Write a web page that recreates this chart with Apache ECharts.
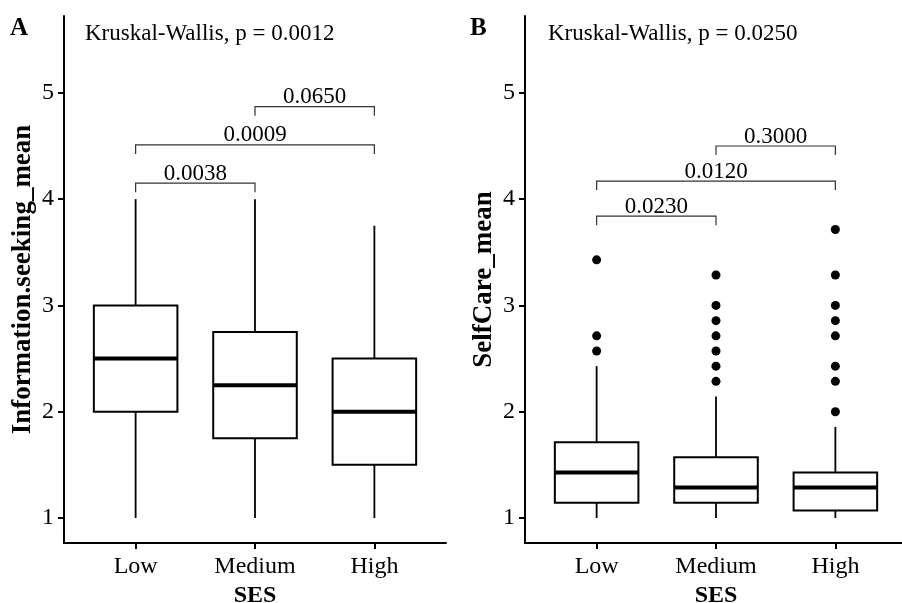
<!DOCTYPE html>
<html lang="en">
<head>
    <meta charset="UTF-8">
    <title>SES boxplots</title>
    <script src="https://cdn.jsdelivr.net/npm/echarts@6/dist/echarts.min.js"></script>
    <style>
        html, body { margin: 0; padding: 0; background: #fff; }
    </style>
</head>
<body>
    <div id="main" style="width: 902px;height:603px;"></div>

    <script type="text/javascript">
        // categories (x positions 1..3)
        var sesLevels = ['Low', 'Medium', 'High'];
        var yTicks = [1, 2, 3, 4, 5];

        // panel A: Information.seeking_mean
        var infoMin = [1, 1, 1];
        var infoQ1 = [2, 1.75, 1.5];
        var infoMed = [2.5, 2.25, 2];
        var infoQ3 = [3, 2.75, 2.5];
        var infoMax = [4, 4, 3.75];
        var infoPairs = [[1, 2], [1, 3], [2, 3]];
        var infoPairY = [4.15, 4.51, 4.87];
        var infoPairP = ['0.0038', '0.0009', '0.0650'];
        var infoKW = 'Kruskal-Wallis, p = 0.0012';

        // panel B: SelfCare_mean
        var selfMin = [1, 1, 1];
        var selfQ1 = [1.143, 1.143, 1.071];
        var selfMed = [1.429, 1.286, 1.286];
        var selfQ3 = [1.714, 1.571, 1.429];
        var selfMax = [2.429, 2.143, 1.857];
        var selfOutLow = [2.571, 2.714, 3.429];
        var selfOutMedium = [2.286, 2.429, 2.571, 2.714, 2.857, 3.0, 3.286];
        var selfOutHigh = [2.0, 2.286, 2.429, 2.714, 2.857, 3.0, 3.286, 3.714];
        var selfPairs = [[1, 2], [1, 3], [2, 3]];
        var selfPairY = [3.84, 4.17, 4.5];
        var selfPairP = ['0.0230', '0.0120', '0.3000'];
        var selfKW = 'Kruskal-Wallis, p = 0.0250';

        var serif = 'Liberation Serif';
        var boxHalf = 0.35;
        var tip = 0.085;

        function boxData(mn, q1, md, q3, mx) {
            var out = [];
            for (var i = 0; i < mn.length; i++) {
                out.push([i + 1, mn[i], q1[i], md[i], q3[i], mx[i]]);
            }
            return out;
        }

        function pairData(pairs, ys, ps) {
            var out = [];
            for (var i = 0; i < pairs.length; i++) {
                out.push([pairs[i][0], pairs[i][1], ys[i], ps[i]]);
            }
            return out;
        }

        function outlierData(lists) {
            var out = [];
            for (var g = 0; g < lists.length; g++) {
                for (var j = 0; j < lists[g].length; j++) {
                    out.push([g + 1, lists[g][j]]);
                }
            }
            return out;
        }

        function renderBox(params, api) {
            var x = api.value(0);
            var pMin = api.coord([x, api.value(1)]);
            var pQ1 = api.coord([x, api.value(2)]);
            var pMed = api.coord([x, api.value(3)]);
            var pQ3 = api.coord([x, api.value(4)]);
            var pMax = api.coord([x, api.value(5)]);
            var left = api.coord([x - boxHalf, api.value(3)])[0];
            var right = api.coord([x + boxHalf, api.value(3)])[0];
            var line = { stroke: '#000', lineWidth: 1.8 };
            return {
                type: 'group',
                children: [
                    { type: 'line', shape: { x1: pMin[0], y1: pMin[1], x2: pQ1[0], y2: pQ1[1] }, style: line },
                    { type: 'line', shape: { x1: pQ3[0], y1: pQ3[1], x2: pMax[0], y2: pMax[1] }, style: line },
                    { type: 'rect', shape: { x: left, y: pQ3[1], width: right - left, height: pQ1[1] - pQ3[1] },
                      style: { fill: '#fff', stroke: '#000', lineWidth: 2 } },
                    { type: 'line', shape: { x1: left, y1: pMed[1], x2: right, y2: pMed[1] },
                      style: { stroke: '#000', lineWidth: 4 } }
                ]
            };
        }

        var pairLabels = { pairsA: infoPairP, pairsB: selfPairP };

        function renderPair(params, api) {
            var y = api.value(2);
            var a = api.coord([api.value(0), y]);
            var b = api.coord([api.value(1), y]);
            var aLow = api.coord([api.value(0), y - tip]);
            var label = pairLabels[params.seriesName][params.dataIndex];
            return {
                type: 'group',
                children: [
                    { type: 'polyline', shape: { points: [[a[0], aLow[1]], a, b, [b[0], aLow[1]]] },
                      style: { stroke: '#333', lineWidth: 1.2, fill: null } },
                    { type: 'text', x: (a[0] + b[0]) / 2, y: a[1] + 2,
                      style: { text: label, fill: '#000', font: '23px "' + serif + '"',
                               align: 'center', verticalAlign: 'bottom' } }
                ]
            };
        }

        function xAxisFor(idx) {
            return {
                gridIndex: idx, type: 'value', min: 0.4, max: 3.6,
                name: 'SES', nameLocation: 'middle', nameGap: 40,
                nameTextStyle: { fontFamily: serif, fontWeight: 'bold', fontSize: 24, color: '#000' },
                axisLine: { show: true, lineStyle: { color: '#000', width: 2 } },
                axisTick: { show: true, length: 6, customValues: [1, 2, 3], lineStyle: { color: '#000', width: 2 } },
                axisLabel: { customValues: [1, 2, 3], fontFamily: serif, fontSize: 24, color: '#000', margin: 12,
                             formatter: function (v) { return sesLevels[Math.round(v) - 1]; } },
                splitLine: { show: false }
            };
        }

        function yAxisFor(idx, title) {
            return {
                gridIndex: idx, type: 'value', min: 0.765, max: 5.723,
                name: title, nameLocation: 'middle', nameGap: 27,
                nameTextStyle: { fontFamily: serif, fontWeight: 'bold', fontSize: 27, color: '#000' },
                axisLine: { show: true, lineStyle: { color: '#000', width: 2 } },
                axisTick: { show: true, length: 6, customValues: yTicks, lineStyle: { color: '#000', width: 2 } },
                axisLabel: { customValues: yTicks, fontFamily: serif, fontSize: 24, color: '#000', margin: 10 },
                splitLine: { show: false }
            };
        }

        var myChart = echarts.init(document.getElementById('main'));
        myChart.setOption({
            backgroundColor: '#fff',
            animation: false,
            grid: [
                { left: 64, top: 16, width: 382, height: 527, outerBoundsMode: 'none', containLabel: false },
                { left: 525, top: 16, width: 382, height: 527, outerBoundsMode: 'none', containLabel: false }
            ],
            xAxis: [xAxisFor(0), xAxisFor(1)],
            yAxis: [yAxisFor(0, 'Information.seeking_mean'), yAxisFor(1, 'SelfCare_mean')],
            graphic: [
                { type: 'text', left: 10, top: 16, style: { text: 'A', font: 'bold 25px "' + serif + '"', fill: '#000' } },
                { type: 'text', left: 470, top: 16, style: { text: 'B', font: 'bold 25px "' + serif + '"', fill: '#000' } },
                { type: 'text', left: 85, top: 22, style: { text: infoKW, font: '23px "' + serif + '"', fill: '#000' } },
                { type: 'text', left: 548, top: 22, style: { text: selfKW, font: '23px "' + serif + '"', fill: '#000' } }
            ],
            series: [
                { name: 'boxA', type: 'custom', xAxisIndex: 0, yAxisIndex: 0, renderItem: renderBox,
                  data: boxData(infoMin, infoQ1, infoMed, infoQ3, infoMax) },
                { name: 'boxB', type: 'custom', xAxisIndex: 1, yAxisIndex: 1, renderItem: renderBox,
                  data: boxData(selfMin, selfQ1, selfMed, selfQ3, selfMax) },
                { name: 'outB', type: 'scatter', xAxisIndex: 1, yAxisIndex: 1, symbolSize: 9,
                  itemStyle: { color: '#000', opacity: 1 }, data: outlierData([selfOutLow, selfOutMedium, selfOutHigh]) },
                { name: 'pairsA', type: 'custom', xAxisIndex: 0, yAxisIndex: 0, renderItem: renderPair,
                  data: pairData(infoPairs, infoPairY, infoPairP) },
                { name: 'pairsB', type: 'custom', xAxisIndex: 1, yAxisIndex: 1, renderItem: renderPair,
                  data: pairData(selfPairs, selfPairY, selfPairP) }
            ]
        });
    </script>
</body>
</html>
